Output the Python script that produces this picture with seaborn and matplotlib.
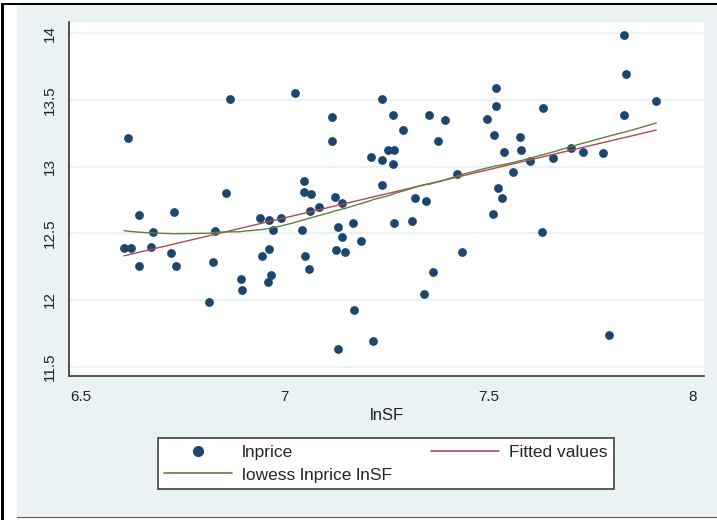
import numpy as np
import pandas as pd
import matplotlib
matplotlib.use("Agg")
import matplotlib.pyplot as plt
from matplotlib.patches import Rectangle
from matplotlib.lines import Line2D
import seaborn as sns

# ---- data ----
lnSF = [6.616, 6.607, 6.625, 6.644, 6.678, 6.643, 6.672, 6.729, 6.723, 6.733,
        6.830, 6.824, 6.816, 6.856, 6.867, 6.893, 6.895, 6.939, 6.962, 6.971,
        6.946, 6.963, 6.966, 6.959, 6.992, 7.025, 7.047, 7.047, 7.065, 7.063,
        7.084, 7.042, 7.050, 7.060, 7.117, 7.117, 7.123, 7.142, 7.131, 7.140,
        7.126, 7.148, 7.167, 7.188, 7.170, 7.130, 7.218, 7.239, 7.213, 7.239,
        7.239, 7.265, 7.290, 7.254, 7.269, 7.265, 7.268, 7.320, 7.348, 7.354,
        7.394, 7.375, 7.423, 7.313, 7.434, 7.365, 7.343, 7.496, 7.518, 7.518,
        7.514, 7.538, 7.577, 7.579, 7.560, 7.602, 7.524, 7.532, 7.511, 7.633,
        7.631, 7.657, 7.703, 7.732, 7.781, 7.795, 7.832, 7.838, 7.832, 7.911]
lnprice = [13.218, 12.387, 12.387, 12.635, 12.510, 12.257, 12.397, 12.662, 12.349, 12.257,
           12.520, 12.287, 11.986, 12.805, 13.507, 12.159, 12.076, 12.615, 12.602, 12.527,
           12.327, 12.382, 12.184, 12.131, 12.615, 13.549, 12.895, 12.810, 12.795, 12.665,
           12.700, 12.527, 12.327, 12.234, 13.371, 13.191, 12.770, 12.727, 12.547, 12.469,
           12.372, 12.362, 12.580, 12.442, 11.921, 11.635, 11.690, 13.509, 13.073, 13.048,
           12.863, 13.386, 13.271, 13.123, 13.121, 13.018, 12.577, 12.768, 12.740, 13.386,
           13.349, 13.193, 12.948, 12.592, 12.362, 12.209, 12.046, 13.356, 13.589, 13.454,
           13.238, 13.106, 13.221, 13.126, 12.960, 13.043, 12.843, 12.768, 12.645, 13.439,
           12.507, 13.063, 13.136, 13.108, 13.103, 11.740, 13.987, 13.697, 13.384, 13.496]
x_ticks = [6.5, 7, 7.5, 8]
x_ticklabels = ["6.5", "7", "7.5", "8"]
y_ticks = [11.5, 12, 12.5, 13, 13.5, 14]
y_ticklabels = ["11.5", "12", "12.5", "13", "13.5", "14"]

df = pd.DataFrame({"lnSF": lnSF, "lnprice": lnprice}).sort_values("lnSF").reset_index(drop=True)

# OLS fit
b1, b0 = np.polyfit(df["lnSF"], df["lnprice"], 1)
fit = pd.DataFrame({"lnSF": df["lnSF"], "yhat": b0 + b1 * df["lnSF"]})

# Stata-style lowess (bwidth .8, tricube, local linear, no robustness)
def stata_lowess(x, y, bw=0.8):
    x = np.asarray(x, float); y = np.asarray(y, float)
    n = len(x)
    k = int(np.floor((n * bw - 0.5) / 2))
    out = np.empty(n)
    for i in range(n):
        lo = max(0, i - k); hi = min(n - 1, i + k)
        xs = x[lo:hi + 1]; ys = y[lo:hi + 1]
        d = 1.0001 * max(x[hi] - x[i], x[i] - x[lo])
        w = (1 - (np.abs(xs - x[i]) / d) ** 3) ** 3
        sw = w.sum()
        xm = (w * xs).sum() / sw; ym = (w * ys).sum() / sw
        sxx = (w * (xs - xm) ** 2).sum()
        slope = (w * (xs - xm) * (ys - ym)).sum() / sxx if sxx > 0 else 0.0
        out[i] = ym + slope * (x[i] - xm)
    return out

low = pd.DataFrame({"lnSF": df["lnSF"], "smooth": stata_lowess(df["lnSF"], df["lnprice"])})

# ---- style ----
sns.set_style("white")
plt.rcParams["font.family"] = ["Liberation Sans", "DejaVu Sans"]

W, H = 717, 520
fig = plt.figure(figsize=(W / 100, H / 100), dpi=100, facecolor="white")

def fx(x): return x / W
def fy(y): return 1 - y / H

BG = "#eaf2f3"
NAVY = "#1a476f"
RED = "#b04a50"
GREEN = "#5e8237"

# figure decorations (background, border)
fig.add_artist(Rectangle((fx(17), fy(517)), fx(700), 513 / H, transform=fig.transFigure,
                         facecolor=BG, edgecolor="none", zorder=0))
fig.add_artist(Rectangle((fx(1), fy(520)), fx(3), 517 / H, transform=fig.transFigure,
                         facecolor="black", edgecolor="none", zorder=1))
fig.add_artist(Rectangle((fx(1), fy(4.5)), fx(716), 2 / H, transform=fig.transFigure,
                         facecolor="black", edgecolor="none", zorder=1))
fig.add_artist(Rectangle((fx(17), fy(518)), fx(700), 1.5 / H, transform=fig.transFigure,
                         facecolor="#555555", edgecolor="none", zorder=1))

ax = fig.add_axes([fx(69), fy(376), (704 - 69) / W, (376 - 22) / H])
ax.set_facecolor("white")

sns.scatterplot(data=df, x="lnSF", y="lnprice", ax=ax, color=NAVY, s=40,
                edgecolor=NAVY, linewidth=0, zorder=3, legend=False)
sns.lineplot(data=fit, x="lnSF", y="yhat", ax=ax, color=RED, lw=1.0, zorder=4, legend=False)
sns.lineplot(data=low, x="lnSF", y="smooth", ax=ax, color=GREEN, lw=1.0, zorder=4, legend=False)

ax.set_xlim(6.472, 8.028)
ax.set_ylim(11.429, 14.085)
ax.set_xticks(x_ticks)
ax.set_xticklabels(x_ticklabels)
ax.set_yticks(y_ticks)
ax.set_yticklabels(y_ticklabels, rotation=90, va="center")
for yv in y_ticks:
    ax.axhline(yv, color=BG, lw=1.6, zorder=1)

for s in ["top", "right"]:
    ax.spines[s].set_visible(False)
for s in ["left", "bottom"]:
    ax.spines[s].set_color("#444444")
    ax.spines[s].set_linewidth(1.3)
ax.tick_params(axis="both", direction="out", length=5, width=1.1, color="#444444",
               labelsize=11, labelcolor="#222222")
ax.tick_params(axis="x", pad=5)
ax.tick_params(axis="y", pad=4)
ax.set_xlabel("lnSF", fontsize=12, color="#222222", labelpad=3)
ax.set_ylabel("")

handles = [
    Line2D([], [], marker="o", ls="none", color=NAVY, markersize=7),
    Line2D([], [], color=GREEN, lw=1.2),
    Line2D([], [], color=RED, lw=1.2),
]
labels = ["lnprice", "lowess lnprice lnSF", "Fitted values"]
leg = fig.legend(handles, labels, ncol=2, loc="center", mode="expand",
                 bbox_to_anchor=(fx(158), fy(492), 456 / W, 57 / H),
                 bbox_transform=fig.transFigure, fontsize=12.5, frameon=True,
                 fancybox=False, framealpha=1, borderpad=0.35, labelspacing=0.45,
                 handlelength=3.9, handletextpad=0.6, borderaxespad=0)
leg.get_frame().set_edgecolor("#404040")
leg.get_frame().set_linewidth(1.2)
leg.get_frame().set_facecolor("white")

fig.savefig("out.png", dpi=100, facecolor=fig.get_facecolor())
